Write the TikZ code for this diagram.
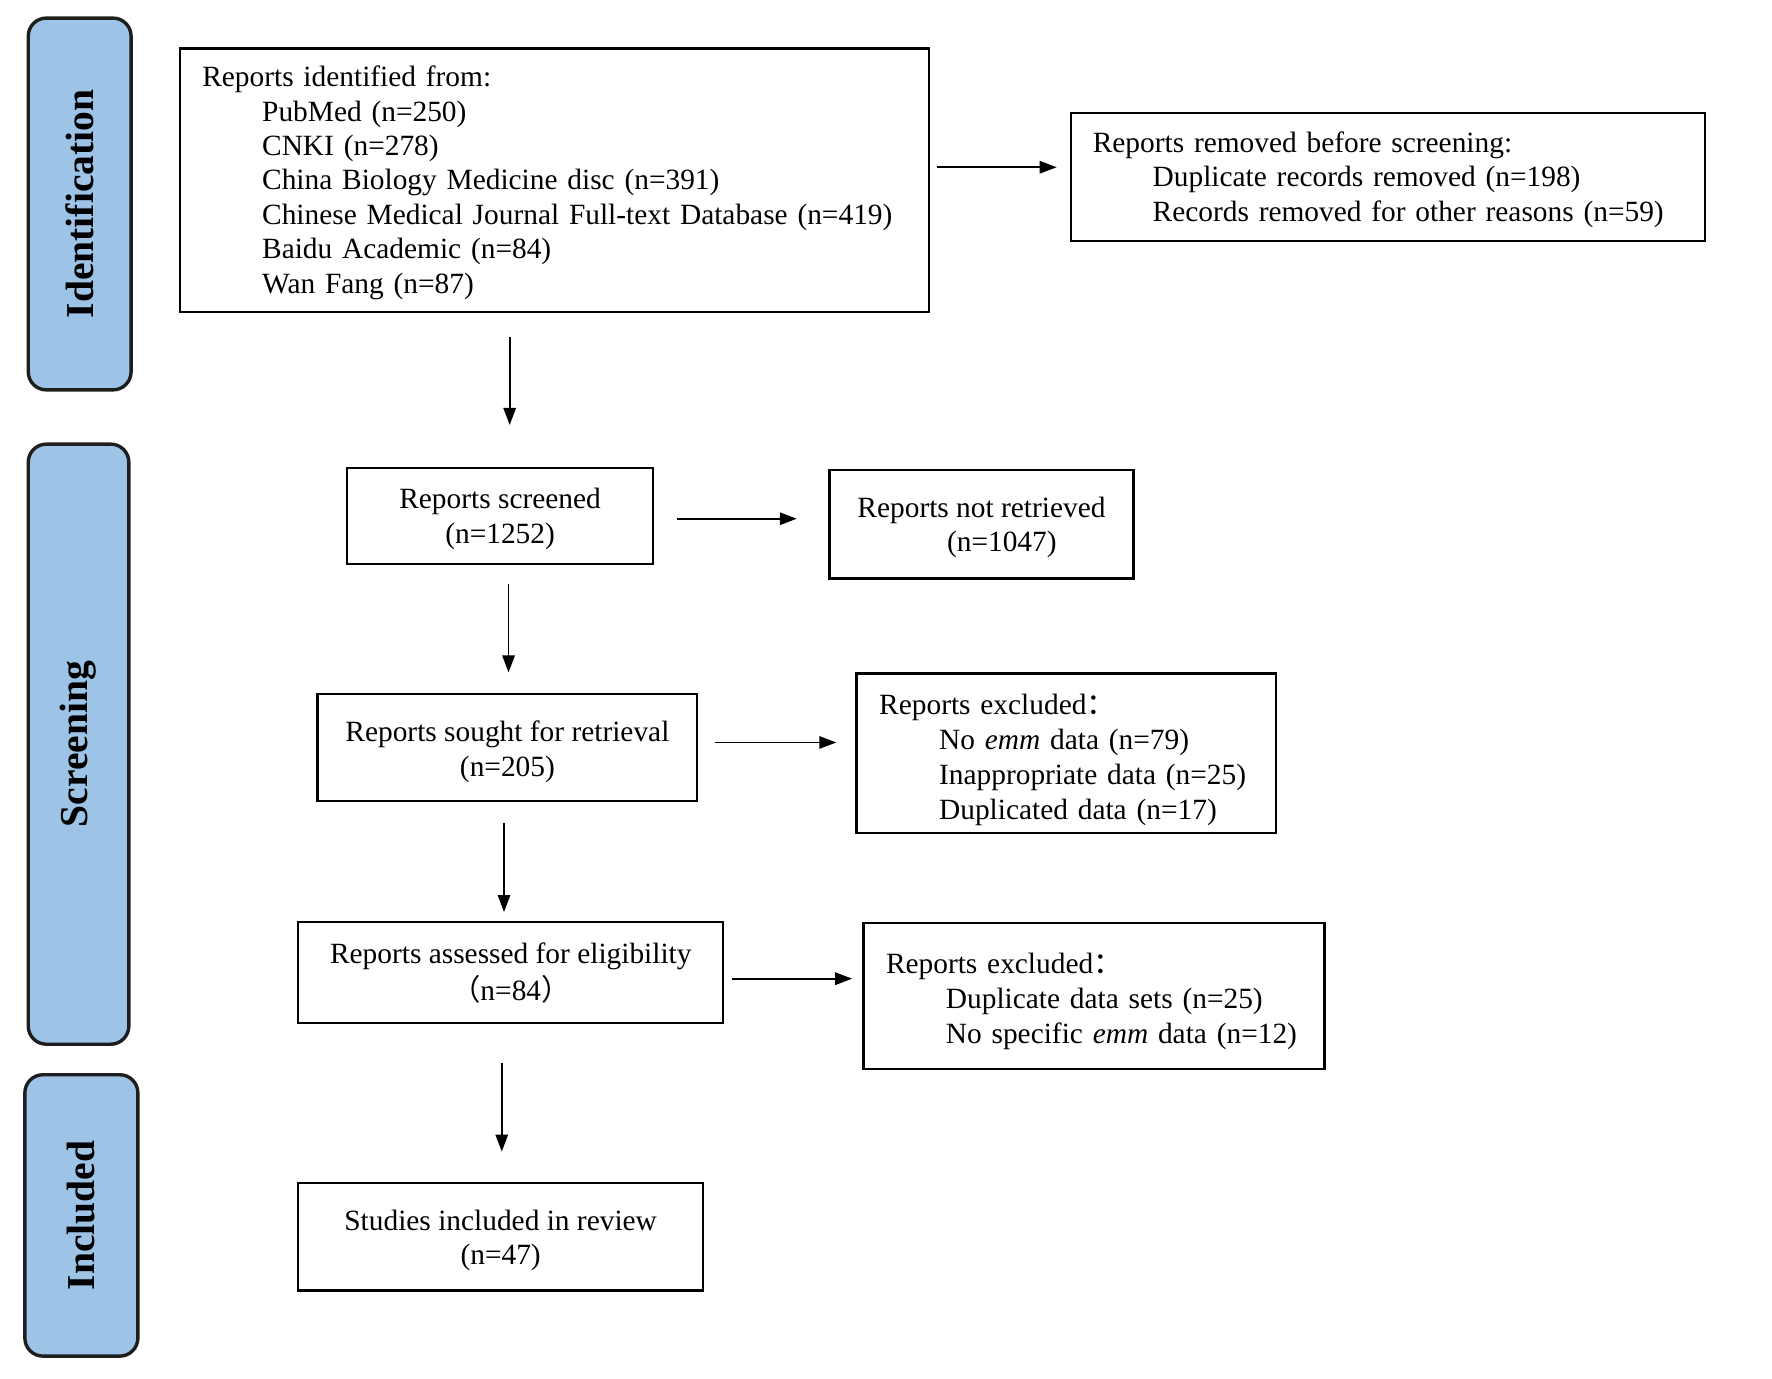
\documentclass[tikz,border=0pt]{standalone}
\usepackage{fontspec}
\setmainfont{Liberation Serif}
\newfontfamily\cjk{Noto Sans CJK SC}
\usetikzlibrary{arrows.meta}
\definecolor{sideblue}{RGB}{157,195,230}
\definecolor{sideline}{RGB}{30,30,30}
% #1 downward shift of the text, #2 column type, #3 rows
\newcommand\boxtext[3]{\raisebox{-#1pt}[\height][\depth]{\begin{tabular}{@{}#2@{}}#3\end{tabular}}}
\begin{document}
\begin{tikzpicture}[x=1pt,y=-1pt,
  box/.style={draw=black, line width=2pt, inner sep=0pt, font=\fontsize{26}{30.5}\selectfont},
  lbox/.style={box, align=left, anchor=north west},
  cbox/.style={box, align=center},
  side/.style={draw=sideline, line width=3pt, fill=sideblue, rounded corners=16pt, rotate=90, inner sep=0pt, font=\fontsize{35}{40}\selectfont\bfseries},
  arr/.style={line width=1.5pt, -{Triangle[length=15pt,width=11pt]}}
]
\useasboundingbox (0,0) rectangle (1568,1220);

% side labels
\node[side, minimum width=329pt, minimum height=91pt] (sid) at (70.5,180.5) {Identification};
\node[side, minimum width=531pt, minimum height=89pt] (sscr) at (69.5,658.5) {Screening};
\node[side, minimum width=249pt, minimum height=100pt] (sinc) at (72,1075.5) {Included};

% boxes
\node[lbox, inner xsep=20pt, text width=623pt, minimum height=233pt] (ident) at (158,42) {\boxtext{2.5}{l}{Reports identified from:\\
\hspace*{53pt}PubMed (n=250)\\
\hspace*{53pt}CNKI (n=278)\\
\hspace*{53pt}China Biology Medicine disc (n=391)\\
\hspace*{53pt}Chinese Medical Journal Full-text Database (n=419)\\
\hspace*{53pt}Baidu Academic (n=84)\\
\hspace*{53pt}Wan Fang (n=87)}};

\node[lbox, inner xsep=19pt, text width=523pt, minimum height=113pt] (rem) at (947,99) {\boxtext{2.5}{l}{Reports removed before screening:\\
\hspace*{53pt}Duplicate records removed (n=198)\\
\hspace*{53pt}Records removed for other reasons (n=59)}};

\node[cbox, minimum width=271pt, minimum height=85pt] (scr) at (442.5,456.5) {\boxtext{3}{c}{Reports screened\\(n=1252)}};

\node[cbox, minimum width=269pt, minimum height=96pt] (notr) at (868.5,464) {\boxtext{3}{c}{Reports not retrieved\\\hspace*{36pt}(n=1047)}};

\node[cbox, minimum width=336pt, minimum height=95pt] (sought) at (449,661.5) {\boxtext{4}{c}{Reports sought for retrieval\\(n=205)}};

\node[lbox, inner xsep=20pt, text width=331pt, minimum height=141pt, font=\fontsize{26}{31}\selectfont] (exa) at (757,595) {\boxtext{6}{l}{Reports excluded{\cjk ：}\\
\hspace*{53pt}No \textit{emm} data (n=79)\\
\hspace*{53pt}Inappropriate data (n=25)\\
\hspace*{53pt}Duplicated data (n=17)}};

\node[cbox, minimum width=376pt, minimum height=89pt, font=\fontsize{26}{32}\selectfont] (assess) at (452,860.5) {\boxtext{2}{c}{Reports assessed for eligibility\\{\cjk （}n=84{\cjk ）}}};

\node[lbox, inner xsep=20pt, text width=368pt, minimum height=129pt, font=\fontsize{26}{31}\selectfont] (exb) at (763,816) {\boxtext{4.5}{l}{Reports excluded{\cjk ：}\\
\hspace*{53pt}Duplicate data sets (n=25)\\
\hspace*{53pt}No specific \textit{emm} data (n=12)}};

\node[cbox, minimum width=358pt, minimum height=95pt] (incl) at (443,1094.5) {\boxtext{3.5}{c}{Studies included in review\\(n=47)}};

% arrow lanes
\coordinate (c1) at (451,0);
\coordinate (c2) at (450,0);
\coordinate (c3) at (446,0);
\coordinate (c4) at (444,0);
\coordinate (r1) at (0,148);
\coordinate (r2) at (0,459);
\coordinate (r3) at (0,657);
\coordinate (r4) at (0,866);

\draw[arr, shorten <=21pt, shorten >=37pt] (ident.south -| c1) -- (scr.north -| c1);
\draw[arr, shorten <=17pt, shorten >=18pt] (scr.south -| c2) -- (sought.north -| c2);
\draw[arr, shorten <=18pt, shorten >=8pt] (sought.south -| c3) -- (assess.north -| c3);
\draw[arr, shorten <=35pt, shorten >=27pt] (assess.south -| c4) -- (incl.north -| c4);

\draw[arr, shorten <=6pt, shorten >=12pt] (ident.east |- r1) -- (rem.west |- r1);
\draw[arr, shorten <=20pt, shorten >=28pt] (scr.east |- r2) -- (notr.west |- r2);
\draw[arr, shorten <=15pt, shorten >=17pt] (sought.east |- r3) -- (exa.west |- r3);
\draw[arr, shorten <=7pt, shorten >=9pt] (assess.east |- r4) -- (exb.west |- r4);
\end{tikzpicture}
\end{document}
